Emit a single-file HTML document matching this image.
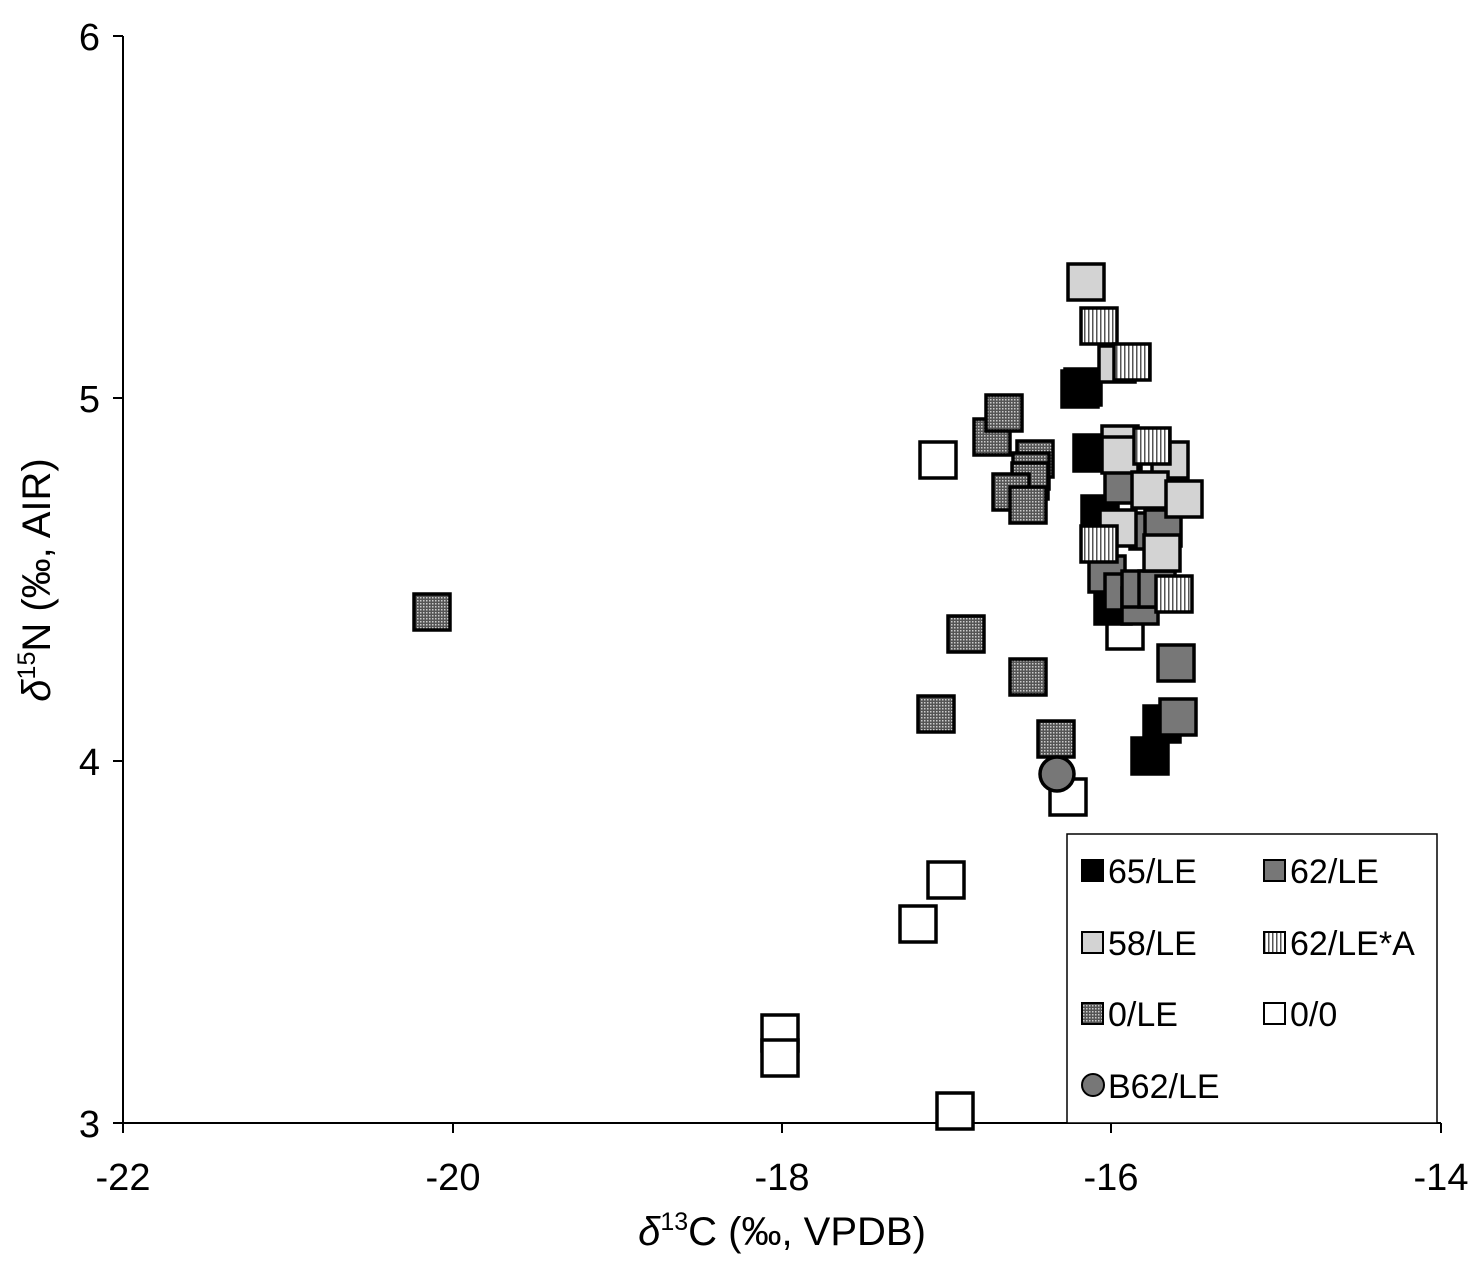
<!DOCTYPE html>
<html><head><meta charset="utf-8"><style>body{margin:0;background:#fff}svg{display:block}</style></head><body>
<svg width="1480" height="1263" xmlns="http://www.w3.org/2000/svg" font-family="Liberation Sans, sans-serif">
<defs>
<pattern id="dots" width="3" height="3" patternUnits="userSpaceOnUse"><rect width="3" height="3" fill="#555"/><rect width="1.5" height="1.5" fill="#ccc"/></pattern>
<pattern id="vs" width="4" height="4" patternUnits="userSpaceOnUse"><rect width="4" height="4" fill="#fff"/><rect width="1.5" height="4" fill="#555"/></pattern>
</defs>
<rect width="1480" height="1263" fill="#fff"/>
<line x1="123" y1="36" x2="123" y2="1123" stroke="#000" stroke-width="2"/>
<line x1="123" y1="1123" x2="1441" y2="1123" stroke="#000" stroke-width="2"/>
<g stroke="#000" stroke-width="2">
<line x1="113" y1="36" x2="123" y2="36"/><line x1="113" y1="398" x2="123" y2="398"/><line x1="113" y1="761" x2="123" y2="761"/><line x1="113" y1="1123" x2="123" y2="1123"/>
<line x1="123" y1="1123" x2="123" y2="1133"/><line x1="453" y1="1123" x2="453" y2="1133"/><line x1="782" y1="1123" x2="782" y2="1133"/><line x1="1111" y1="1123" x2="1111" y2="1133"/><line x1="1441" y1="1123" x2="1441" y2="1133"/>
</g>
<g font-size="38" text-anchor="end">
<text x="100" y="50">6</text><text x="100" y="412">5</text><text x="100" y="775">4</text><text x="100" y="1137">3</text>
</g>
<g font-size="38" text-anchor="middle">
<text x="123" y="1190">-22</text><text x="453" y="1190">-20</text><text x="782" y="1190">-18</text><text x="1111" y="1190">-16</text><text x="1441" y="1190">-14</text>
</g>
<text x="782" y="1245" font-size="40" text-anchor="middle"><tspan font-style="italic">δ</tspan><tspan font-size="25" dy="-15">13</tspan><tspan dy="15">C (‰, VPDB)</tspan></text>
<text transform="translate(50,580) rotate(-90)" font-size="40" text-anchor="middle"><tspan font-style="italic">δ</tspan><tspan font-size="25" dy="-15">15</tspan><tspan dy="15">N (‰, AIR)</tspan></text>
<g stroke="#000" stroke-width="3.5">
<g fill="#fff">
<rect x="1107" y="613" width="36" height="36"/>
<rect x="920" y="442" width="36" height="36"/>
<rect x="928" y="862" width="36" height="36"/>
<rect x="900" y="906" width="36" height="36"/>
<rect x="762" y="1015" width="36" height="36"/>
<rect x="762" y="1040" width="36" height="36"/>
<rect x="937" y="1093" width="36" height="36"/>
</g>
<g fill="#000">
<rect x="1062" y="371" width="36" height="36"/><rect x="1065" y="369" width="36" height="36"/>
<rect x="1074" y="435" width="36" height="36"/>
<rect x="1082" y="496" width="36" height="36"/>
<rect x="1095" y="588" width="36" height="36"/>
<rect x="1144" y="706" width="36" height="36"/>
<rect x="1132" y="738" width="36" height="36"/>
</g>
<g fill="#777">
<rect x="1105" y="467" width="36" height="36"/>
<rect x="1130" y="513" width="36" height="36"/><rect x="1145" y="510" width="36" height="36"/>
<rect x="1089" y="556" width="36" height="36"/><rect x="1105" y="574" width="36" height="36"/>
<rect x="1122" y="588" width="36" height="36"/><rect x="1122" y="571" width="36" height="36"/><rect x="1139" y="571" width="36" height="36"/>
<rect x="1158" y="645" width="36" height="36"/>
<rect x="1160" y="699" width="36" height="36"/>
</g>
<g fill="#d3d3d3">
<rect x="1068" y="264" width="36" height="36"/>
<rect x="1099" y="346" width="36" height="36"/>
<rect x="1102" y="426" width="36" height="36"/><rect x="1102" y="437" width="36" height="36"/>
<rect x="1152" y="442" width="36" height="36"/>
<rect x="1132" y="472" width="36" height="36"/>
<rect x="1166" y="481" width="36" height="36"/>
<rect x="1100" y="510" width="36" height="36"/>
<rect x="1144" y="535" width="36" height="36"/>
</g>
<g fill="url(#vs)">
<rect x="1081" y="308" width="36" height="36"/>
<rect x="1114" y="344" width="36" height="36"/>
<rect x="1134" y="428" width="36" height="36"/>
<rect x="1081" y="526" width="36" height="36"/>
<rect x="1156" y="576" width="36" height="36"/>
</g>
<g fill="url(#dots)">
<rect x="414" y="594" width="36" height="36"/>
<rect x="974" y="419" width="36" height="36"/>
<rect x="986" y="395" width="36" height="36"/>
<rect x="1017" y="441" width="36" height="36"/>
<rect x="1013" y="453" width="36" height="36"/>
<rect x="1012" y="463" width="36" height="36"/>
<rect x="993" y="474" width="36" height="36"/>
<rect x="1010" y="487" width="36" height="36"/>
<rect x="948" y="616" width="36" height="36"/>
<rect x="1010" y="659" width="36" height="36"/>
<rect x="918" y="696" width="36" height="36"/>
<rect x="1038" y="721" width="36" height="36"/>
</g>
<rect x="1050" y="779" width="36" height="36" fill="#fff"/>
<circle cx="1057" cy="774" r="17" fill="#777"/>
</g>
<rect x="1067" y="834" width="370" height="289" fill="#fff" stroke="#000" stroke-width="1.5"/>
<g stroke="#000" stroke-width="2">
<rect x="1082" y="860" width="21" height="21" fill="#000"/>
<rect x="1264" y="860" width="21" height="21" fill="#777"/>
<rect x="1082" y="932" width="21" height="21" fill="#d3d3d3"/>
<rect x="1264" y="932" width="21" height="21" fill="url(#vs)"/>
<rect x="1082" y="1003" width="21" height="21" fill="url(#dots)"/>
<rect x="1264" y="1003" width="21" height="21" fill="#fff"/>
<circle cx="1093" cy="1085" r="11" fill="#777"/>
</g>
<g font-size="34">
<text x="1108" y="883">65/LE</text><text x="1290" y="883">62/LE</text>
<text x="1108" y="955">58/LE</text><text x="1290" y="955">62/LE*A</text>
<text x="1108" y="1026">0/LE</text><text x="1290" y="1026">0/0</text>
<text x="1108" y="1098">B62/LE</text>
</g>
</svg>
</body></html>
